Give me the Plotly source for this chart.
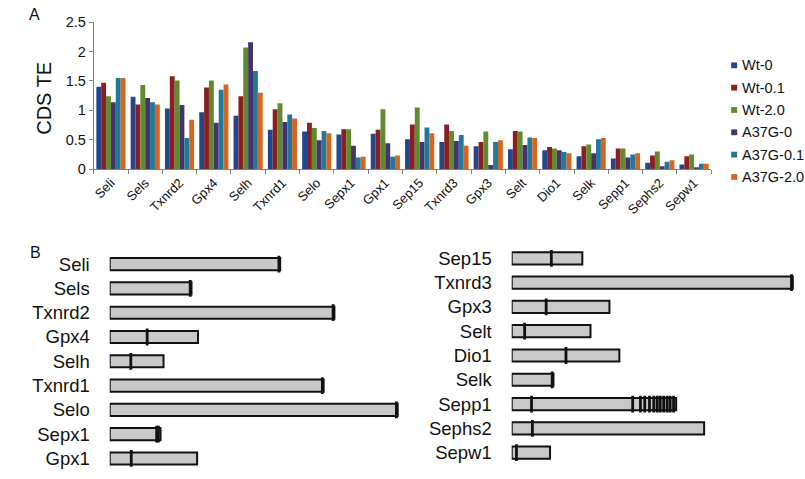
import plotly.graph_objects as go

# ---------------- Panel A data ----------------
genes = ["Seli", "Sels", "Txnrd2", "Gpx4", "Selh", "Txnrd1", "Selo", "Sepx1", "Gpx1",
         "Sep15", "Txnrd3", "Gpx3", "Selt", "Dio1", "Selk", "Sepp1", "Sephs2", "Sepw1"]
series_names = ["Wt-0", "Wt-0.1", "Wt-2.0", "A37G-0", "A37G-0.1", "A37G-2.0"]
wt_0 = [1.40, 1.23, 1.03, 0.97, 0.91, 0.67, 0.64, 0.59, 0.60, 0.51, 0.46, 0.39, 0.34, 0.32, 0.22, 0.18, 0.11, 0.08]
wt_01 = [1.47, 1.10, 1.58, 1.39, 1.24, 1.02, 0.79, 0.68, 0.67, 0.76, 0.76, 0.46, 0.65, 0.375, 0.39, 0.35, 0.23, 0.22]
wt_20 = [1.24, 1.43, 1.51, 1.51, 2.07, 1.12, 0.70, 0.68, 1.02, 1.05, 0.65, 0.64, 0.64, 0.35, 0.42, 0.35, 0.30, 0.25]
a37g_0 = [1.14, 1.21, 1.09, 0.79, 2.16, 0.80, 0.49, 0.40, 0.44, 0.46, 0.48, 0.07, 0.41, 0.32, 0.27, 0.20, 0.05, 0.02]
a37g_01 = [1.55, 1.14, 0.53, 1.35, 1.67, 0.93, 0.65, 0.20, 0.21, 0.71, 0.58, 0.46, 0.54, 0.29, 0.51, 0.25, 0.125, 0.09]
a37g_20 = [1.55, 1.10, 0.84, 1.44, 1.30, 0.86, 0.61, 0.21, 0.23, 0.61, 0.40, 0.49, 0.53, 0.27, 0.53, 0.27, 0.15, 0.09]
series_values = [wt_0, wt_01, wt_20, a37g_0, a37g_01, a37g_20]
series_colors = ["#24468C", "#8B1F1F", "#5F8B2D", "#45336E", "#22789A", "#D8651F"]
y_ticks = [0, 0.5, 1, 1.5, 2, 2.5]
y_ticktext = ["0", "0.5", "1", "1.5", "2", "2.5"]

# ---------------- Panel B data (CDS length in codons, Sec positions) ----------------
left_genes = ["Seli", "Sels", "Txnrd2", "Gpx4", "Selh", "Txnrd1", "Selo", "Sepx1", "Gpx1"]
left_len = [396, 190, 522, 205, 125, 497, 669, 118, 203]
left_sec = [[393], [187], [519], [87], [49], [494], [666], [109, 113], [50]]
right_genes = ["Sep15", "Txnrd3", "Gpx3", "Selt", "Dio1", "Selk", "Sepp1", "Sephs2", "Sepw1"]
right_len = [164, 653, 227, 183, 250, 97, 382, 447, 89]
right_sec = [[92], [650], [80], [30], [126], [94],
             [46, 281, 299, 309, 320, 330, 338, 345, 353, 361, 368, 376], [48], [11]]

FONT = "Liberation Sans, Arial, Helvetica, sans-serif"
W, H = 805, 479


def px_x(p):
    return p / W


def px_y(p):
    return 1 - p / H


fig = go.Figure()

for name, vals, col in zip(series_names, series_values, series_colors):
    fig.add_trace(go.Bar(x=genes, y=vals, name=name, marker=dict(color=col, line=dict(width=0)),
                         showlegend=False, xaxis="x", yaxis="y"))


def add_column(gnames, lengths, secs, xa, ya):
    fig.add_trace(go.Bar(
        y=gnames, x=lengths, orientation="h", width=0.5,
        marker=dict(color="#c9c9c9", line=dict(color="#111111", width=2)),
        showlegend=False, xaxis=xa, yaxis=ya))
    sx, sy = [], []
    for g, ss in zip(gnames, secs):
        for s in ss:
            sx.append(s)
            sy.append(g)
    fig.add_trace(go.Scatter(
        x=sx, y=sy, mode="markers",
        marker=dict(symbol="line-ns", size=12, line=dict(color="#111111", width=2.8)),
        showlegend=False, xaxis=xa, yaxis=ya))


add_column(left_genes, left_len, left_sec, "x2", "y2")
add_column(right_genes, right_len, right_sec, "x3", "y3")

SCALE = 0.4315  # px per codon

fig.update_layout(
    width=W, height=H,
    margin=dict(l=0, r=0, t=0, b=0),
    paper_bgcolor="white", plot_bgcolor="white",
    font=dict(family=FONT, color="#111111"),
    barmode="group", bargap=0.15, bargroupgap=0,
    xaxis=dict(domain=[px_x(92), px_x(711)], type="category", categoryarray=genes,
               showline=True, linecolor="#808080", linewidth=1,
               ticks="outside", tickson="boundaries", ticklen=4, tickcolor="#808080",
               tickangle=-45, tickfont=dict(size=13, family=FONT, color="#111111"),
               showgrid=False, zeroline=False, anchor="y"),
    yaxis=dict(domain=[px_y(166.7), px_y(14.7)], range=[0, 2.5],
               tickvals=y_ticks, ticktext=y_ticktext,
               showline=True, linecolor="#808080", linewidth=1,
               ticks="outside", ticklen=4, tickcolor="#808080",
               tickfont=dict(size=14.5, family=FONT, color="#111111"),
               showgrid=False, zeroline=False, anchor="x"),
    xaxis2=dict(domain=[px_x(108), px_x(400)], range=[0, 292 / SCALE], visible=False, anchor="y2"),
    yaxis2=dict(domain=[px_y(478.6), px_y(252.4)], type="category", categoryarray=left_genes,
                range=[8.5, -0.5], showline=False, showgrid=False, zeroline=False, ticks="",
                ticklabelstandoff=19, tickfont=dict(size=18.5, family=FONT, color="#111111"),
                anchor="x2"),
    xaxis3=dict(domain=[px_x(511), px_x(800)], range=[0, 289 / SCALE], visible=False, anchor="y3"),
    yaxis3=dict(domain=[px_y(472.6), px_y(246.4)], type="category", categoryarray=right_genes,
                range=[8.5, -0.5], showline=False, showgrid=False, zeroline=False, ticks="",
                ticklabelstandoff=19, tickfont=dict(size=18.5, family=FONT, color="#111111"),
                anchor="x3"),
)

annotations = [
    dict(text="CDS TE", x=px_x(42), y=px_y(93), xref="paper", yref="paper", textangle=-90,
         showarrow=False, font=dict(size=20, family=FONT, color="#111111"),
         xanchor="center", yanchor="middle"),
    dict(text="A", x=px_x(33), y=px_y(7), xref="paper", yref="paper", showarrow=False,
         font=dict(size=16, family=FONT, color="#111111"), xanchor="center", yanchor="middle"),
    dict(text="B", x=px_x(34), y=px_y(253), xref="paper", yref="paper", showarrow=False,
         font=dict(size=16, family=FONT, color="#111111"), xanchor="center", yanchor="middle"),
]
shapes = []
for i, (name, col) in enumerate(zip(series_names, series_colors)):
    yc = 59.3 + i * 23.1
    annotations.append(dict(text=name, x=px_x(740), y=px_y(yc), xref="paper", yref="paper",
                            showarrow=False, xanchor="left", yanchor="middle",
                            font=dict(size=14.5, family=FONT, color="#111111")))
    shapes.append(dict(type="rect", xref="paper", yref="paper",
                       x0=px_x(731), x1=px_x(737), y0=px_y(yc + 3), y1=px_y(yc - 3),
                       fillcolor=col, line=dict(width=0)))

fig.update_layout(annotations=annotations, shapes=shapes)

post = (
    "document.documentElement.style.margin='0px';"
    "document.body.style.margin='0px';"
    "document.body.style.padding='0px';"
    "document.documentElement.style.overflow='hidden';"
    "document.body.style.overflow='hidden';"
    "var gds=document.getElementsByClassName('plotly-graph-div');"
    "for(var i=0;i<gds.length;i++){gds[i].style.position='fixed';gds[i].style.top='0px';gds[i].style.left='0px';}"
)

fig.write_html("out.html", config={"displayModeBar": False}, post_script=post)
